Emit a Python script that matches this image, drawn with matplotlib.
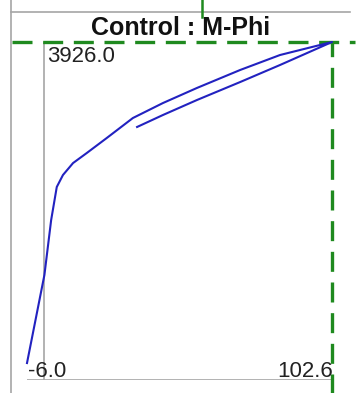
import matplotlib
matplotlib.use("Agg")
import matplotlib.pyplot as plt
from matplotlib.lines import Line2D

plt.rcParams["font.family"] = ["Liberation Sans", "DejaVu Sans"]

# moment-curvature history: loading branch then unloading branch
phi_load = [-6.0, 0.2, 2.6, 4.6, 6.8, 10.4, 15.3, 22.4, 31.7, 42.4, 54.5, 69.9, 84.1, 102.6]
m_load = [197, 1220, 1858, 2242, 2381, 2520, 2637, 2811, 3043, 3217, 3392, 3601, 3775, 3926]
phi_unload = [102.6, 84.1, 69.9, 54.5, 42.4, 33.2]
m_unload = [3926, 3659, 3461, 3252, 3078, 2939]

TITLE = "Control : M-Phi"
GRAY = "#a6a6a6"
GREEN = "#1f8a1f"
BLUE = "#2222c0"

phi = phi_load + phi_unload
m = m_load + m_unload
phi_min, phi_max = min(phi), max(phi)
m_max = max(m)

W, H = 360, 393
fig = plt.figure(figsize=(W / 100, H / 100), dpi=100)

# panel frame pieces (left border, top rule, tick from the panel above)
fig.add_artist(Line2D([11 / W, 11 / W], [0, 1], color=GRAY, lw=1.2))
fig.add_artist(Line2D([11 / W, 350 / W], [1 - 12 / H, 1 - 12 / H], color=GRAY, lw=1.2))
fig.add_artist(Line2D([202 / W, 202 / W], [1 - 17 / H, 1], color=GREEN, lw=1.8))

fig.text(181 / W, 1 - 35 / H, TITLE, ha="center", va="baseline",
         fontsize=18, fontweight="bold", color="#111111")

ax = fig.add_axes([27 / W, 13 / H, 305 / W, 338 / H])
ax.set_xlim(phi_min, phi_max)
ax.set_ylim(0, m_max)
ax.axis("off")

ax.axvline(0, color=GRAY, lw=1.2, zorder=1)
ax.axhline(0, color=GRAY, lw=1.2, zorder=1)

ax.plot(phi, m, color=BLUE, lw=1.5, clip_on=False, zorder=3,
        solid_joinstyle="round")

# crosshair at the peak
dash = (0, (6.0, 3.2))
ax.axhline(m_max, xmin=-0.049, xmax=1.075, color=GREEN, lw=2.4,
           linestyle=dash, clip_on=False, zorder=2)
ax.axvline(phi_max, ymin=-0.04, ymax=1.0, color=GREEN, lw=2.4,
           linestyle=dash, clip_on=False, zorder=2)

lab = dict(fontsize=16, color="#222222", va="baseline")
ax.text(0.066, 0.941, f"{m_max:.1f}", transform=ax.transAxes, ha="left", **lab)
ax.text(0.003, 0.009, f"{phi_min:.1f}", transform=ax.transAxes, ha="left", **lab)
ax.text(1.003, 0.009, f"{phi_max:.1f}", transform=ax.transAxes, ha="right", **lab)

fig.savefig("out.png", dpi=100)
